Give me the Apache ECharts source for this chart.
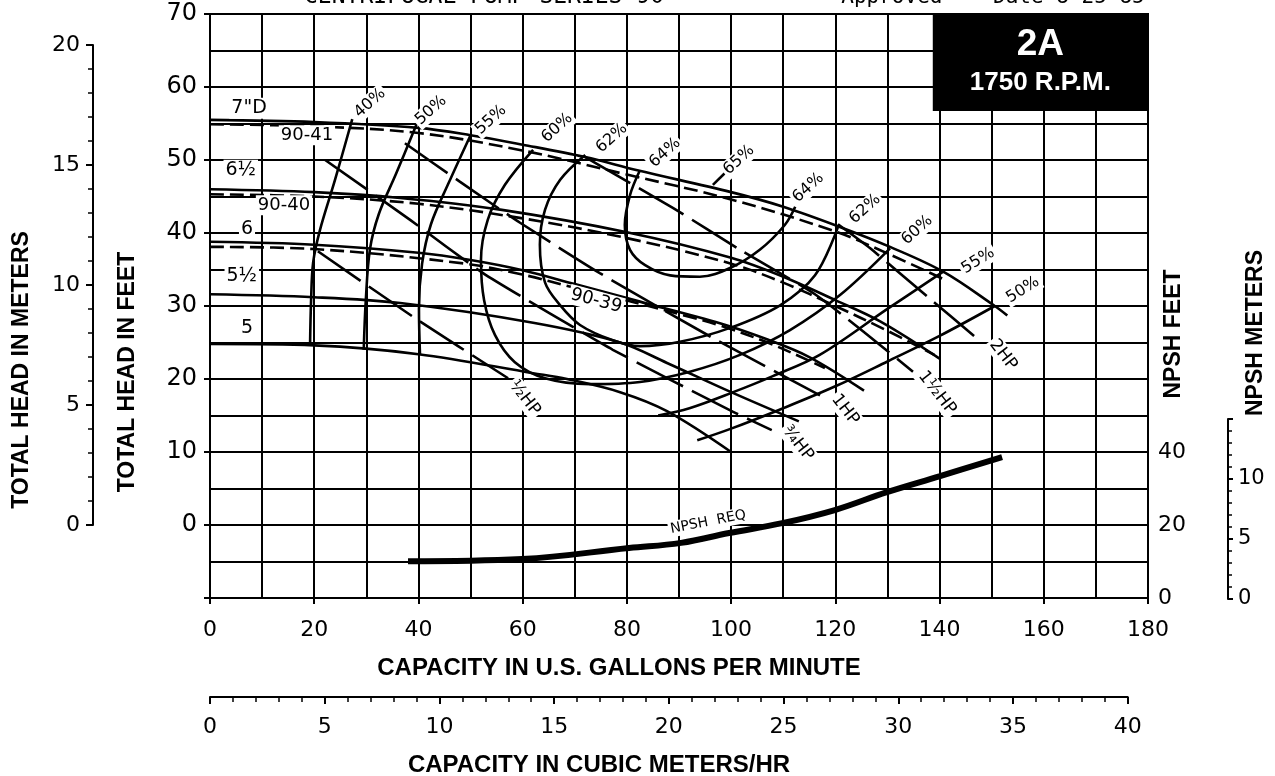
<!DOCTYPE html>
<html><head><meta charset="utf-8">
<script src="https://cdn.jsdelivr.net/npm/echarts/dist/echarts.min.js"></script>
<style>html,body{margin:0;padding:0;background:#fff;}#c{width:1275px;height:776px;}</style>
</head><body><div id="c"></div>
<script>
// ---------- axis ranges / ticks ----------
var gpmRange = [0, 180];          // US gpm
var headFtRange = [-10, 70];      // total head, ft
var headMRange = [0, 20];         // total head, m
var npshFtRange = [0, 160];       // NPSH ft (labels 0..40)
var npshFtLabels = [0, 20, 40];
var npshMRange = [0, 15];         // NPSH m (labels 0..10)
var cubicRange = [0, 40];         // m3/hr

// ---------- impeller head curves [gpm, ft] ----------
var imp7   = [[0,55.5],[20,55.2],[40,54.4],[50,53.4],[60,52.1],[72,50.4],[82,48.6],[100,45.6],[110,43.6],[121,40.8],[130.5,38.1],[140.7,34.7],[150.6,30.0],[153,28.7]];
var d9041  = [[0,54.9],[20,54.6],[40,53.7],[60,51.3],[80,48.0],[100,44.6],[120,40.2],[130,37.2],[141,33.6]];
var imp65  = [[0,46.0],[20,45.6],[36.5,44.8],[55.7,43.2],[80,40.1],[100,36.6],[110,34.0],[120,30.8],[128.6,27.9],[140,22.8]];
var d9040  = [[0,45.3],[20,45.0],[40,44.0],[60,42.0],[80,39.3],[100,35.8],[110,33.2],[120,30.0],[130,26.6],[139,23.3]];
var imp6   = [[0,38.8],[20,38.4],[40,37.3],[50,36.3],[60,34.9],[70,33.0],[82.5,30.6],[98,27.6],[107,25.4],[115,23.0],[125.5,18.4]];
var d9039  = [[0,38.1],[20,37.8],[49,35.8],[60,34.3],[70,32.5],[82.5,30.3],[91,28.7],[98,27.3],[107,25.0],[115,22.5],[118,21.5]];
var imp55  = [[0,31.6],[20,31.2],[36.5,30.4],[62,27.7],[78.7,25.0],[87.7,22.2],[100,18.2],[113,14.2]];
var imp5   = [[0,24.8],[20,24.6],[40,23.4],[62,20.8],[68.5,20.0],[78.7,18.2],[87.7,15.6],[100,10.0]];

// ---------- efficiency contours [gpm, ft] ----------
var eff40  = [[27.3,55.6],[24.0,47.3],[21.1,40.4],[19.8,36.0],[19.4,30.8],[19.2,24.6]];
var eff50L = [[39.7,55.0],[35.7,48.1],[32.4,42.6],[30.7,37.8],[29.9,30.8],[29.5,24.0]];
var eff55L = [[50.0,53.4],[45.7,46.7],[42.4,41.2],[40.7,35.8],[40.1,29.6],[40.3,23.3]];
var eff60  = [[62.0,51.4],[56.6,46.6],[53.3,41.8],[52.0,36.3],[52.6,30.8],[54.7,26.0],[58.5,22.3],[64.3,20.1],[72.9,19.3],[82.5,19.6],[92.1,21.0],[101.7,23.3],[111.3,26.7],[120.9,31.5],[130.5,37.9]];
var eff62  = [[72.0,50.7],[67.2,47.3],[64.3,43.2],[63.3,38.4],[64.3,33.2],[67.2,30.1],[71.0,27.4],[77.3,25.3],[82.5,24.5],[90.2,25.1],[99.8,27.0],[109.4,30.1],[116.1,34.2],[120.5,40.8]];
var eff64  = [[82.5,48.6],[80.6,45.2],[79.6,41.1],[80.6,37.7],[83.5,35.6],[88.3,34.2],[94.0,34.0],[99.8,35.2],[105.5,37.7],[110.3,41.1],[112.3,43.6]];
var eff65  = [[96.5,46.6],[99.8,48.9]];
var eff55R = [[140.7,34.7],[130,29.6],[117,23.3],[108,20.4],[100.4,18.2],[92,16.0],[86,15.0]];
var eff50R = [[150.6,30.0],[140,25.9],[130,22.4],[120,19.0],[110,16.0],[100,13.2],[93.5,11.6]];

// ---------- brake horsepower lines [gpm, ft] ----------
var hpHalf = [[20.7,37.5],[39.0,28.5],[57.2,20.1]];
var hp34   = [[22.1,50.0],[38.4,41.8],[52.4,34.5],[65.2,29.0],[77.3,24.0],[100.4,15.5],[107.8,13.0]];
var hp1    = [[37.4,52.3],[48.0,47.0],[59.5,41.4],[74.8,34.5],[97.3,25.3],[118.0,17.4]];
var hp112  = [[72.0,50.4],[88.9,43.4],[101.7,37.7],[116.5,31.4],[134.9,21.0]];
var hp2    = [[120.5,41.2],[126.7,37.9],[137.8,31.2],[146.8,25.8]];

// ---------- NPSH required [gpm, NPSH ft] ----------
var npshReq = [[38.0,10.1],[59.9,10.7],[80.4,13.7],[90.4,15.1],[99.6,17.8],[109.8,20.5],[119.9,24.1],[129.9,29.0],[140.1,33.4],[152.0,38.6]];

// ---------- curve labels [gpm, ft, text, rotation deg, font size] ----------
var curveLabels = [
  [7.5,57.1,'7"D',0,19],[18.6,53.4,'90-41',0,18],[5.9,48.6,'6½',0,19],[14.2,43.8,'90-40',0,18],
  [7.1,40.5,'6',0,19],[6.1,34.1,'5½',0,19],[7.1,27.0,'5',0,19],[74.1,30.7,'90-39',-15,18],
  [30.7,57.8,'40%',42,16],[42.4,56.8,'50%',42,16],[53.9,55.5,'55%',42,16],[66.6,54.4,'60%',42,16],
  [77.1,53.0,'62%',42,16],[87.3,51.0,'64%',42,16],[101.5,50.0,'65%',42,16],[114.8,46.2,'64%',42,16],
  [125.7,43.3,'62%',42,16],[135.7,40.4,'60%',42,16],[147.4,36.2,'55%',32,16],[156.0,32.2,'50%',32,16],
  [60.4,17.4,'½HP',-52,17],[112.8,11.2,'¾HP',-52,17],[121.9,15.8,'1HP',-52,17],[139.5,18.1,'1½HP',-52,17],[152.2,23.3,'2HP',-52,17],
  [95.6,0.4,'NPSH  REQ',11,14]
];
var boxGpm = [138.7, 180], boxFt = [56.7, 70];

var BLK = '#000';
function ln(data, extra) {
  var s = {type:'line', xAxisIndex:0, yAxisIndex:0, data:data, symbol:'none', showSymbol:false,
    smooth:0.35, silent:true, z:3, lineStyle:{color:BLK, width:2.6}};
  for (var k in extra) s[k] = extra[k];
  return s;
}
var dash = {color:BLK, width:2.6, type:[14,6]};
var hpStyle = {color:BLK, width:2.6, type:[52,10]};

var series = [
  ln(imp7, {markArea:{silent:true, itemStyle:{color:BLK, opacity:1},
    label:{show:true, position:'inside', formatter:'{a|2A}\n{b|1750 R.P.M.}',
      rich:{a:{color:'#fff', fontSize:37, fontWeight:'bold', fontFamily:'Liberation Sans', lineHeight:40, align:'center'},
            b:{color:'#fff', fontSize:26, fontWeight:'bold', fontFamily:'Liberation Sans', lineHeight:36, align:'center'}}},
    data:[[{coord:[boxGpm[0], boxFt[1]]},{coord:[boxGpm[1], boxFt[0]]}]]}}),
  ln(d9041, {lineStyle:dash}), ln(imp65), ln(d9040, {lineStyle:dash}),
  ln(imp6), ln(d9039, {lineStyle:dash}), ln(imp55), ln(imp5),
  ln(eff40), ln(eff50L), ln(eff55L), ln(eff60), ln(eff62), ln(eff64), ln(eff65, {smooth:false}),
  ln(eff55R), ln(eff50R),
  ln(hpHalf, {lineStyle:hpStyle, smooth:0.2}), ln(hp34, {lineStyle:hpStyle, smooth:0.2}),
  ln(hp1, {lineStyle:hpStyle, smooth:0.2}), ln(hp112, {lineStyle:hpStyle, smooth:0.2}), ln(hp2, {lineStyle:hpStyle, smooth:0.2}),
  ln(npshReq, {yAxisIndex:1, lineStyle:{color:BLK, width:6, cap:'butt'}, smooth:0.4}),
  {type:'scatter', xAxisIndex:0, yAxisIndex:0, symbolSize:0, z:10, silent:true, itemStyle:{color:BLK},
    label:{show:true, position:[0,0], align:'center', verticalAlign:'middle', color:BLK, opacity:1,
      textBorderWidth:0, textBorderColor:'transparent', fontFamily:'DejaVu Sans', backgroundColor:'#fff', padding:[1,2]},
    data: curveLabels.map(function(r){ return {value:[r[0], r[1]], label:{formatter:r[2], rotate:r[3], fontSize:r[4]}}; })}
];

var axisLineS = {color:BLK, width:2};
var lblS = {color:BLK, fontFamily:'DejaVu Sans'};
function merge(a,b){var o={};for(var k in a)o[k]=a[k];for(var k2 in b)o[k2]=b[k2];return o;}

var option = {
  animation:false, backgroundColor:'#fff',
  textStyle:{fontFamily:'DejaVu Sans'},
  grid:[
    {left:210, top:14, width:938, height:584, show:true, borderColor:BLK, borderWidth:2, backgroundColor:'transparent'},
    {left:93, top:45, width:1, height:480},
    {left:1227, top:419, width:1, height:180},
    {left:210, top:690, width:917.7, height:7}
  ],
  xAxis:[
    {gridIndex:0, type:'value', min:gpmRange[0], max:gpmRange[1], interval:20,
      axisLine:{show:true, onZero:false, lineStyle:axisLineS}, axisTick:{show:true, length:6, lineStyle:axisLineS},
      axisLabel:merge(lblS,{fontSize:22, margin:21}),
      splitLine:{show:true, lineStyle:{color:BLK, width:2}},
      minorTick:{show:false, splitNumber:2}, minorSplitLine:{show:true, lineStyle:{color:BLK, width:2}}},
    {gridIndex:1, type:'value', min:0, max:1, show:false},
    {gridIndex:2, type:'value', min:0, max:1, show:false},
    {gridIndex:3, type:'value', min:cubicRange[0], max:cubicRange[1], interval:5,
      axisLine:{show:true, onZero:false, lineStyle:axisLineS}, axisTick:{show:true, length:7, lineStyle:axisLineS},
      minorTick:{show:true, splitNumber:5, length:5, lineStyle:{color:BLK, width:1.5}},
      axisLabel:merge(lblS,{fontSize:22, margin:19}), splitLine:{show:false}}
  ],
  yAxis:[
    {gridIndex:0, type:'value', min:headFtRange[0], max:headFtRange[1], interval:10,
      axisLine:{show:true, onZero:false, lineStyle:axisLineS}, axisTick:{show:true, length:6, lineStyle:axisLineS},
      axisLabel:merge(lblS,{fontSize:24, margin:13, formatter:function(v){return v<0?'':v;}}),
      splitLine:{show:true, lineStyle:{color:BLK, width:2}},
      minorTick:{show:false, splitNumber:2}, minorSplitLine:{show:true, lineStyle:{color:BLK, width:2}}},
    {gridIndex:0, type:'value', position:'right', min:npshFtRange[0], max:npshFtRange[1], interval:20,
      axisLine:{show:false}, axisTick:{show:true, length:6, lineStyle:axisLineS},
      axisLabel:merge(lblS,{fontSize:22, margin:10, formatter:function(v){return npshFtLabels.indexOf(v)>=0?v:'';}}),
      splitLine:{show:false}},
    {gridIndex:1, type:'value', position:'left', min:headMRange[0], max:headMRange[1], interval:5,
      axisLine:{show:true, onZero:false, lineStyle:axisLineS}, axisTick:{show:true, length:7, lineStyle:axisLineS},
      minorTick:{show:true, splitNumber:5, length:5, lineStyle:{color:BLK, width:1.5}},
      axisLabel:merge(lblS,{fontSize:22, margin:13}), splitLine:{show:false}},
    {gridIndex:2, type:'value', position:'right', min:npshMRange[0], max:npshMRange[1], interval:5,
      axisLine:{show:true, onZero:false, lineStyle:axisLineS}, axisTick:{show:true, length:5, lineStyle:axisLineS},
      minorTick:{show:true, splitNumber:5, length:4, lineStyle:{color:BLK, width:1.5}},
      axisLabel:merge(lblS,{fontSize:21, margin:10, formatter:function(v){return v<15?v:'';}}), splitLine:{show:false}},
    {gridIndex:3, type:'value', min:0, max:1, show:false}
  ],
  graphic:[
    {type:'text', x:22, y:370, rotation:Math.PI/2, style:{text:'TOTAL HEAD IN METERS', fill:BLK, font:'bold 23px "Liberation Sans"', align:'center', verticalAlign:'middle'}},
    {type:'text', x:128, y:372, rotation:Math.PI/2, style:{text:'TOTAL HEAD IN FEET', fill:BLK, font:'bold 23px "Liberation Sans"', align:'center', verticalAlign:'middle'}},
    {type:'text', x:1174, y:334, rotation:Math.PI/2, style:{text:'NPSH FEET', fill:BLK, font:'bold 23px "Liberation Sans"', align:'center', verticalAlign:'middle'}},
    {type:'text', x:1256, y:333, rotation:Math.PI/2, style:{text:'NPSH METERS', fill:BLK, font:'bold 23px "Liberation Sans"', align:'center', verticalAlign:'middle'}},
    {type:'text', x:619, y:668, style:{text:'CAPACITY IN U.S. GALLONS PER MINUTE', fill:BLK, font:'bold 24px "Liberation Sans"', align:'center', verticalAlign:'middle'}},
    {type:'text', x:599, y:765, style:{text:'CAPACITY IN CUBIC METERS/HR', fill:BLK, font:'bold 24px "Liberation Sans"', align:'center', verticalAlign:'middle'}},
    {type:'text', x:484, y:-3, style:{text:'CENTRIFUGAL PUMP SERIES 90', fill:BLK, font:'23px "DejaVu Sans Mono"', align:'center', verticalAlign:'middle'}},
    {type:'text', x:993, y:-2, style:{text:'Approved    Date 8-25-85', fill:BLK, font:'21px "DejaVu Sans Mono"', align:'center', verticalAlign:'middle'}}
  ],
  series: series
};
var chart = echarts.init(document.getElementById('c'));
chart.setOption(option);
</script></body></html>
